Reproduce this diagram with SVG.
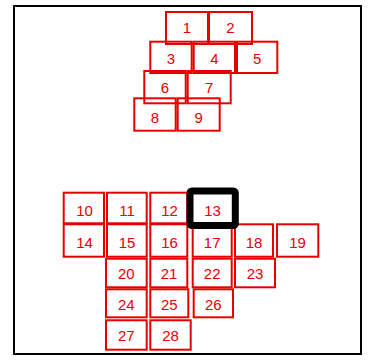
<svg xmlns="http://www.w3.org/2000/svg" width="382" height="360" viewBox="0 0 382 360">
<style>
.b rect{fill:none;stroke:#e60000;stroke-width:2}
.b text{font-family:"Liberation Sans",Arial,sans-serif;font-size:15px;fill:#e60000;text-anchor:middle}
.sel rect{stroke:#000;stroke-width:7}
</style>
<rect x="14" y="6" width="347" height="348" fill="#fff" stroke="#000" stroke-width="2"/>
<g id="connectors"/>
<g id="n1" class="b"><rect x="166" y="12" width="42" height="32"/><text x="187" y="33">1</text></g>
<g id="n2" class="b"><rect x="209" y="12" width="43" height="32"/><text x="230.5" y="33">2</text></g>
<g id="n3" class="b"><rect x="150.3" y="41.7" width="41.4" height="31.3"/><text x="171" y="63.7">3</text></g>
<g id="n4" class="b"><rect x="193.7" y="41.7" width="41.3" height="31.3"/><text x="214.3" y="63.7">4</text></g>
<g id="n5" class="b"><rect x="237" y="41.7" width="40.3" height="31.3"/><text x="257.2" y="63.7">5</text></g>
<g id="n6" class="b"><rect x="144.3" y="71" width="41.4" height="32.3"/><text x="165" y="93.2">6</text></g>
<g id="n7" class="b"><rect x="187.7" y="71" width="43" height="32.3"/><text x="209.2" y="93.2">7</text></g>
<g id="n8" class="b"><rect x="134.3" y="98.3" width="41.4" height="32.4"/><text x="155" y="122.6">8</text></g>
<g id="n9" class="b"><rect x="177.7" y="98.3" width="42" height="32.4"/><text x="198.7" y="122.6">9</text></g>
<g id="n10" class="b"><rect x="63.7" y="192.7" width="40.3" height="30.6"/><text x="84.5" y="216.2">10</text></g>
<g id="n11" class="b"><rect x="107" y="192.7" width="39.7" height="30.6"/><text x="127" y="216.2">11</text></g>
<g id="n12" class="b"><rect x="150.3" y="192.7" width="37" height="30.6"/><text x="169.5" y="216.2">12</text></g>
<g id="n14" class="b"><rect x="63.7" y="224.3" width="40.3" height="32.4"/><text x="84.5" y="247.6">14</text></g>
<g id="n15" class="b"><rect x="107" y="224.3" width="39.7" height="32.4"/><text x="127" y="247.6">15</text></g>
<g id="n16" class="b"><rect x="150.3" y="224.3" width="37" height="32.4"/><text x="169.5" y="247.6">16</text></g>
<g id="n17" class="b"><rect x="192.7" y="224.3" width="39" height="32.4"/><text x="212.2" y="247.6">17</text></g>
<g id="n18" class="b"><rect x="235" y="224.3" width="38" height="32.4"/><text x="254" y="247.6">18</text></g>
<g id="n19" class="b"><rect x="277" y="224.3" width="41.3" height="32.4"/><text x="297.6" y="247.6">19</text></g>
<g id="n20" class="b"><rect x="106" y="258.7" width="40.7" height="28.6"/><text x="126.3" y="278.9">20</text></g>
<g id="n21" class="b"><rect x="150.3" y="258.7" width="37" height="28.6"/><text x="169" y="278.9">21</text></g>
<g id="n22" class="b"><rect x="192.7" y="258.7" width="39" height="28.6"/><text x="212.2" y="278.9">22</text></g>
<g id="n23" class="b"><rect x="235" y="258.7" width="40" height="28.6"/><text x="255" y="278.9">23</text></g>
<g id="n24" class="b"><rect x="106" y="289.3" width="40.7" height="28"/><text x="126.3" y="309.9">24</text></g>
<g id="n25" class="b"><rect x="150.3" y="289.3" width="38" height="28"/><text x="169.3" y="309.9">25</text></g>
<g id="n26" class="b"><rect x="193.7" y="289.3" width="39.3" height="28"/><text x="213.3" y="309.9">26</text></g>
<g id="n27" class="b"><rect x="106" y="320.3" width="40.7" height="29.4"/><text x="126.3" y="340.9">27</text></g>
<g id="n28" class="b"><rect x="150.3" y="320.3" width="40.4" height="29.4"/><text x="170.5" y="340.9">28</text></g>
<g id="n13" class="b sel"><rect x="190" y="191" width="45.3" height="34.5" rx="2"/><text x="212.5" y="216.2">13</text></g>
</svg>
